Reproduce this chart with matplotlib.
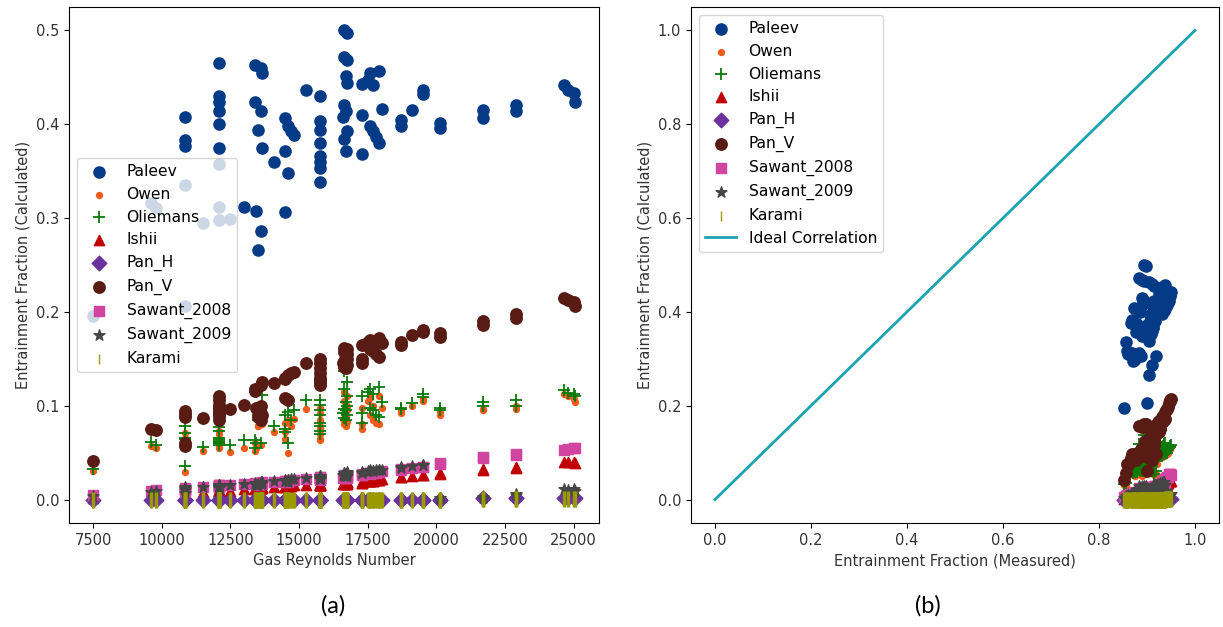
import numpy as np
import matplotlib
matplotlib.use("Agg")
import matplotlib.pyplot as plt

# Gas Reynolds number of each test point
re_gas = [7500, 9600, 9800,
          10850, 10850, 10850, 10850, 10850, 11500,
          12100, 12100, 12100, 12100, 12100, 12100, 12100, 12100, 12100, 12500, 13000,
          13400, 13600, 13650, 13400, 13600, 13500, 13650, 13450, 13600, 13500,
          14100, 14500, 14600, 14700, 14800, 14500, 14600, 14500, 15250,
          15750, 15750, 15750, 15750, 15750, 15750, 15750, 15750,
          16650, 16750, 16650, 16750, 16700, 16750, 16650, 16700, 16600, 16750, 16650, 16700,
          17300, 17300, 17300, 17600, 17500, 17700, 17600, 17700, 17800, 17900, 17900,
          18040, 18730, 18730, 19120, 19500, 19500, 20120, 20120,
          21690, 21690, 22910, 22910, 24650, 24800, 25000, 25050]

# measured entrainment fraction of each test point
e_measured = [0.853, 0.858, 0.861,
              0.874, 0.869, 0.866, 0.856, 0.900, 0.871,
              0.893, 0.890, 0.893, 0.889, 0.885, 0.880, 0.877, 0.868, 0.873, 0.876, 0.884,
              0.905, 0.911, 0.915, 0.915, 0.911, 0.906, 0.902, 0.918, 0.910, 0.905,
              0.896, 0.915, 0.913, 0.912, 0.914, 0.907, 0.890, 0.887, 0.925,
              0.928, 0.922, 0.919, 0.916, 0.912, 0.910, 0.908, 0.905,
              0.893, 0.898, 0.884, 0.889, 0.927, 0.925, 0.920, 0.918, 0.916, 0.913, 0.911, 0.909,
              0.931, 0.921, 0.912, 0.936, 0.933, 0.931, 0.920, 0.918, 0.916, 0.914, 0.938,
              0.925, 0.927, 0.924, 0.931, 0.936, 0.934, 0.935, 0.932,
              0.940, 0.938, 0.943, 0.941, 0.950, 0.948, 0.947, 0.945]

paleev = [0.196, 0.316, 0.311,
          0.408, 0.383, 0.377, 0.335, 0.206, 0.295,
          0.465, 0.430, 0.424, 0.414, 0.400, 0.375, 0.358, 0.312, 0.298, 0.299, 0.312,
          0.463, 0.460, 0.455, 0.424, 0.414, 0.394, 0.375, 0.307, 0.286, 0.266,
          0.360, 0.407, 0.398, 0.393, 0.389, 0.371, 0.348, 0.306, 0.436,
          0.430, 0.403, 0.394, 0.380, 0.366, 0.360, 0.353, 0.338,
          0.500, 0.497, 0.472, 0.468, 0.451, 0.444, 0.421, 0.414, 0.408, 0.393, 0.384, 0.371,
          0.443, 0.410, 0.368, 0.455, 0.447, 0.442, 0.398, 0.393, 0.386, 0.380, 0.457,
          0.416, 0.405, 0.398, 0.415, 0.437, 0.432, 0.401, 0.396,
          0.415, 0.407, 0.421, 0.414, 0.442, 0.437, 0.433, 0.424]

owen = [0.030, 0.057, 0.055,
        0.071, 0.066, 0.060, 0.029, 0.058, 0.052,
        0.073, 0.070, 0.064, 0.060, 0.057, 0.055, 0.058, 0.061, 0.056, 0.051, 0.055,
        0.060, 0.058, 0.090, 0.052, 0.083, 0.078, 0.080, 0.055, 0.085, 0.078,
        0.072, 0.082, 0.085, 0.078, 0.086, 0.072, 0.050, 0.065, 0.097,
        0.098, 0.092, 0.085, 0.078, 0.075, 0.070, 0.065, 0.063,
        0.115, 0.110, 0.105, 0.100, 0.097, 0.095, 0.092, 0.089, 0.086, 0.083, 0.080, 0.078,
        0.098, 0.075, 0.080, 0.108, 0.105, 0.100, 0.090, 0.085, 0.082, 0.080, 0.110,
        0.098, 0.095, 0.092, 0.100, 0.107, 0.105, 0.093, 0.090,
        0.097, 0.095, 0.100, 0.097, 0.113, 0.110, 0.107, 0.104]

oliemans = [0.033, 0.061, 0.058,
            0.078, 0.071, 0.066, 0.036, 0.064, 0.056,
            0.077, 0.073, 0.066, 0.062, 0.060, 0.058, 0.061, 0.064, 0.060, 0.058, 0.063,
            0.063, 0.060, 0.111, 0.055, 0.092, 0.085, 0.088, 0.060, 0.095, 0.090,
            0.078, 0.090, 0.093, 0.085, 0.095, 0.075, 0.060, 0.072, 0.106,
            0.106, 0.101, 0.095, 0.090, 0.082, 0.078, 0.073, 0.070,
            0.137, 0.125, 0.118, 0.110, 0.104, 0.100, 0.097, 0.095, 0.092, 0.090, 0.087, 0.085,
            0.110, 0.082, 0.092, 0.118, 0.115, 0.112, 0.098, 0.095, 0.090, 0.088, 0.120,
            0.104, 0.098, 0.096, 0.103, 0.112, 0.109, 0.098, 0.095,
            0.104, 0.100, 0.106, 0.100, 0.117, 0.114, 0.112, 0.110]

ishii = [0.002, 0.005, 0.005,
         0.007, 0.007, 0.006, 0.004, 0.006, 0.008,
         0.010, 0.010, 0.009, 0.009, 0.009, 0.008, 0.009, 0.009, 0.008, 0.009, 0.011,
         0.012, 0.012, 0.013, 0.011, 0.012, 0.012, 0.012, 0.011, 0.012, 0.011,
         0.013, 0.014, 0.014, 0.014, 0.015, 0.013, 0.013, 0.013, 0.016,
         0.017, 0.017, 0.016, 0.016, 0.016, 0.015, 0.015, 0.015,
         0.018, 0.019, 0.018, 0.019, 0.018, 0.018, 0.018, 0.017, 0.017, 0.017, 0.017, 0.017,
         0.019, 0.018, 0.018, 0.020, 0.020, 0.020, 0.020, 0.020, 0.021, 0.021, 0.021,
         0.022, 0.024, 0.024, 0.025, 0.026, 0.026, 0.028, 0.027,
         0.033, 0.032, 0.035, 0.034, 0.040, 0.040, 0.040, 0.039]

pan_h = [0.000, 0.000, 0.000,
         0.000, 0.000, 0.000, 0.000, 0.000, 0.000,
         0.000, 0.000, 0.000, 0.000, 0.000, 0.000, 0.000, 0.000, 0.000, 0.000, 0.000,
         0.000, 0.000, 0.000, 0.000, 0.000, 0.000, 0.000, 0.000, 0.000, 0.000,
         0.000, 0.000, 0.000, 0.000, 0.000, 0.000, 0.000, 0.000, 0.000,
         0.000, 0.000, 0.000, 0.000, 0.000, 0.000, 0.000, 0.000,
         0.000, 0.000, 0.000, 0.000, 0.000, 0.000, 0.000, 0.000, 0.000, 0.000, 0.000, 0.000,
         0.000, 0.000, 0.000, 0.000, 0.000, 0.000, 0.000, 0.000, 0.000, 0.000, 0.000,
         0.000, 0.000, 0.000, 0.000, 0.000, 0.000, 0.000, 0.000,
         0.002, 0.002, 0.002, 0.002, 0.002, 0.002, 0.002, 0.002]

pan_v = [0.041, 0.075, 0.074,
         0.094, 0.091, 0.088, 0.057, 0.060, 0.087,
         0.110, 0.106, 0.101, 0.097, 0.093, 0.089, 0.085, 0.098, 0.092, 0.096, 0.101,
         0.118, 0.122, 0.125, 0.116, 0.100, 0.095, 0.090, 0.098, 0.085, 0.088,
         0.124, 0.130, 0.133, 0.135, 0.136, 0.128, 0.106, 0.108, 0.145,
         0.150, 0.146, 0.140, 0.135, 0.130, 0.127, 0.125, 0.122,
         0.162, 0.160, 0.157, 0.155, 0.152, 0.150, 0.148, 0.146, 0.145, 0.143, 0.141, 0.140,
         0.165, 0.150, 0.146, 0.170, 0.168, 0.165, 0.160, 0.158, 0.155, 0.152, 0.172,
         0.167, 0.168, 0.165, 0.175, 0.181, 0.179, 0.177, 0.173,
         0.190, 0.186, 0.198, 0.194, 0.215, 0.213, 0.210, 0.206]

sawant_2008 = [0.005, 0.009, 0.010,
               0.012, 0.011, 0.011, 0.008, 0.010, 0.013,
               0.016, 0.015, 0.015, 0.014, 0.014, 0.013, 0.013, 0.014, 0.014, 0.016, 0.017,
               0.018, 0.018, 0.019, 0.017, 0.018, 0.017, 0.017, 0.017, 0.017, 0.016,
               0.019, 0.020, 0.020, 0.021, 0.021, 0.020, 0.019, 0.019, 0.022,
               0.024, 0.024, 0.023, 0.023, 0.022, 0.022, 0.022, 0.021,
               0.026, 0.026, 0.025, 0.025, 0.025, 0.024, 0.024, 0.024, 0.023, 0.023, 0.023, 0.023,
               0.027, 0.026, 0.026, 0.028, 0.028, 0.028, 0.027, 0.028, 0.028, 0.029, 0.029,
               0.030, 0.033, 0.032, 0.034, 0.035, 0.035, 0.039, 0.038,
               0.045, 0.044, 0.048, 0.047, 0.053, 0.054, 0.055, 0.055]

sawant_2009 = [0.004, 0.008, 0.009,
               0.013, 0.012, 0.011, 0.007, 0.010, 0.013,
               0.016, 0.015, 0.014, 0.014, 0.013, 0.013, 0.012, 0.013, 0.013, 0.015, 0.017,
               0.018, 0.019, 0.019, 0.017, 0.018, 0.017, 0.018, 0.016, 0.017, 0.016,
               0.020, 0.021, 0.021, 0.022, 0.022, 0.020, 0.019, 0.020, 0.023,
               0.025, 0.025, 0.024, 0.024, 0.023, 0.022, 0.022, 0.022,
               0.028, 0.029, 0.028, 0.028, 0.027, 0.027, 0.026, 0.026, 0.026, 0.025, 0.025, 0.025,
               0.029, 0.028, 0.028, 0.031, 0.030, 0.030, 0.030, 0.030, 0.031, 0.031, 0.032,
               0.032, 0.035, 0.034, 0.036, 0.037, 0.037, 0.002, 0.002,
               0.003, 0.002, 0.006, 0.005, 0.011, 0.010, 0.011, 0.009]

karami = [0.000] * 3 + [0.000] * 6 + [0.000] * 11 + [0.000] * 10 + [0.000] * 9 + \
         [0.000] * 8 + [0.000] * 12 + [0.000] * 11 + [0.000] * 8 + [0.001] * 8

models = ["Paleev", "Owen", "Oliemans", "Ishii", "Pan_H", "Pan_V",
          "Sawant_2008", "Sawant_2009", "Karami"]
values = [paleev, owen, oliemans, ishii, pan_h, pan_v, sawant_2008, sawant_2009, karami]
markers = ["o", "o", "+", "^", "D", "o", "s", "*", "|"]
sizes = [65, 18, 65, 55, 55, 68, 50, 68, 130]
colors = ["#053b86", "#f05a1a", "#0a7a0a", "#c00000", "#6a329f", "#581c14",
          "#d1449f", "#454545", "#9a9a00"]
lws = [None, None, 1.3, None, None, None, None, None, 2.5]

fig = plt.figure(figsize=(12.23, 6.27), dpi=100)
ax1 = fig.add_axes([0.0564, 0.1659, 0.4334, 0.823])
ax2 = fig.add_axes([0.565, 0.1659, 0.4317, 0.823])

for name, vals, m, s, c, lw in zip(models, values, markers, sizes, colors, lws):
    ax1.scatter(re_gas, vals, marker=m, s=s, color=c, label=name, linewidths=lw)
    ax2.scatter(e_measured, vals, marker=m, s=s, color=c, label=name, linewidths=lw)

ax2.plot([0, 1], [0, 1], color="#1aa3b0", linewidth=2, label="Ideal Correlation")

ax1.set_xticks([7500, 10000, 12500, 15000, 17500, 20000, 22500, 25000])
ax1.set_yticks([0.0, 0.1, 0.2, 0.3, 0.4, 0.5])
ax1.set_xlabel("Gas Reynolds Number", fontsize=10.5, color="#333333")
ax1.set_ylabel("Entrainment Fraction (Calculated)", fontsize=10.5, color="#333333")
leg1 = ax1.legend(loc="center left", fontsize=11.2)

ax2.set_xlim(-0.05, 1.05)
ax2.set_ylim(-0.05, 1.05)
ax2.set_xticks([0.0, 0.2, 0.4, 0.6, 0.8, 1.0])
ax2.set_yticks([0.0, 0.2, 0.4, 0.6, 0.8, 1.0])
ax2.set_xlabel("Entrainment Fraction (Measured)", fontsize=10.5, color="#333333")
ax2.set_ylabel("Entrainment Fraction (Calculated)", fontsize=10.5, color="#333333")
leg2 = ax2.legend(loc="upper left", fontsize=11.2)

# thin Karami tick in the legends
for leg in (leg1, leg2):
    h = leg.legend_handles[8]
    h.set_linewidths([1.0])
    h.set_sizes([60])

for ax in (ax1, ax2):
    ax.tick_params(labelsize=10.5, labelcolor="#333333")

fig.text(333 / 1223, 1 - 606 / 627, "(a)", fontsize=17, family="Lato", ha="center", va="center")
fig.text(928 / 1223, 1 - 606 / 627, "(b)", fontsize=17, family="Lato", ha="center", va="center")

fig.savefig("out.png", dpi=100)
